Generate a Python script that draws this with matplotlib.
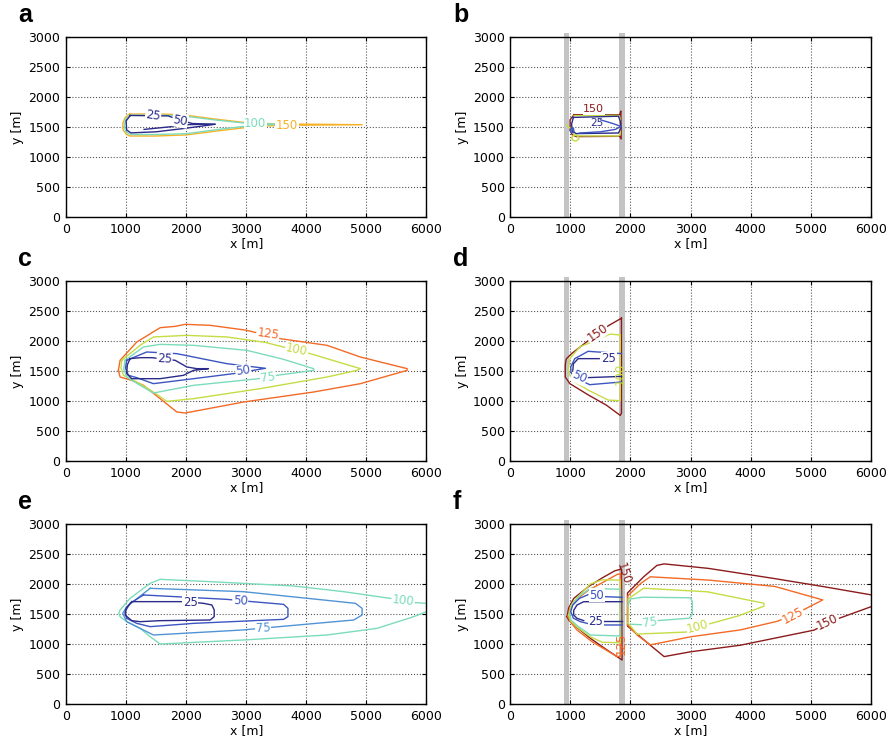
import matplotlib.pyplot as plt

# ---- contour vertices, (x [m], y [m]) ----
# panel a
a150 = [(1060, 1715), (1500, 1718), (1930, 1705), (2500, 1630), (3000, 1572), (3500, 1552),
        (4930, 1538), (3500, 1527), (3000, 1492), (2500, 1432), (2000, 1368), (1500, 1350),
        (1060, 1350), (1000, 1385), (950, 1450), (945, 1560), (985, 1660), (1060, 1715)]
a100 = [(1070, 1697), (1500, 1697), (1900, 1690), (2500, 1615), (2950, 1568), (3550, 1547),
        (3000, 1515), (2500, 1455), (2000, 1388), (1500, 1375), (1075, 1375), (995, 1420),
        (968, 1520), (995, 1640), (1070, 1697)]
a25 = [(1070, 1692), (1700, 1685), (1900, 1615), (2100, 1558), (2480, 1545), (2000, 1480),
       (1500, 1420), (1080, 1402), (1010, 1450), (1000, 1600), (1070, 1692)]
a50 = [(1300, 1460), (1700, 1500), (2050, 1540), (2480, 1547)]

# panel b
b150 = [(1060, 1705), (1820, 1705), (1840, 1765), (1845, 1300), (1820, 1345), (1100, 1340),
        (1030, 1370), (995, 1450), (995, 1620), (1060, 1705)]
b100 = [(1060, 1690), (1800, 1695), (1830, 1640), (1830, 1380), (1800, 1350), (1110, 1352),
        (1040, 1400), (1000, 1480), (930, 1530)]
b100_loop = [(1020, 1320), (1040, 1280), (1090, 1265), (1140, 1300), (1120, 1360), (1050, 1360),
             (1020, 1320)]
b25 = [(1050, 1660), (1800, 1680), (1830, 1600), (1840, 1480), (1800, 1400), (1100, 1390),
       (1030, 1430), (1020, 1550), (1050, 1660)]
b50 = [(1150, 1400), (1500, 1420), (1750, 1460), (1840, 1510), (1700, 1560), (1500, 1620)]
b50_loop = [(1000, 1440), (1020, 1400), (1060, 1420), (1050, 1480), (1010, 1480), (1000, 1440)]

# panel c
c125 = [(872, 1511), (900, 1678), (1178, 1983), (1567, 2222), (1817, 2244), (1983, 2278),
        (2400, 2261), (3000, 2180), (3567, 2039), (4344, 1928), (4900, 1733), (5678, 1539),
        (5678, 1511), (4900, 1289), (4122, 1150), (2955, 983), (1983, 800), (1844, 817),
        (1567, 1039), (1289, 1261), (1094, 1344), (900, 1400), (872, 1511)]
c100 = [(928, 1678), (1233, 1928), (1455, 2067), (2011, 2094), (2678, 2067), (3300, 1980),
        (4066, 1789), (4900, 1539), (4844, 1511), (4344, 1400), (3233, 1206), (2122, 1039),
        (1678, 994), (1455, 1150), (1178, 1317), (955, 1428), (915, 1550), (928, 1678)]
c75 = [(983, 1678), (1289, 1900), (1567, 1944), (2122, 1928), (3011, 1844), (3600, 1700),
       (4122, 1539), (4122, 1511), (3511, 1428), (3205, 1372), (2122, 1261), (1455, 1133),
       (1233, 1261), (1011, 1400), (960, 1540), (983, 1678)]
c50 = [(1011, 1678), (1344, 1817), (1844, 1789), (2678, 1622), (3320, 1545), (2789, 1456),
       (2122, 1372), (1455, 1289), (1178, 1389), (1039, 1428), (990, 1550), (1011, 1678)]
c25 = [(1067, 1706), (1233, 1722), (1428, 1722), (1817, 1678), (2011, 1567), (2178, 1539),
       (2372, 1539), (2122, 1511), (1955, 1428), (1567, 1372), (1094, 1372), (1011, 1456),
       (1020, 1600), (1067, 1706)]

# panel d
d150 = [(1850, 2380), (1640, 2260), (1270, 1985), (1020, 1790), (930, 1700), (915, 1600),
        (915, 1400), (990, 1290), (1300, 1100), (1600, 930), (1830, 760), (1850, 800), (1850, 2380)]
d100 = [(1830, 2100), (1660, 2115), (1400, 2000), (1160, 1905), (995, 1715), (965, 1520),
        (1020, 1350), (1300, 1180), (1630, 1015), (1830, 1005), (1830, 2100)]
d50_top = [(1850, 1790), (1295, 1828), (1072, 1705), (1005, 1567), (1010, 1480), (1060, 1400)]
d50_low = [(1200, 1330), (1322, 1272), (1850, 1317)]
d25 = [(1480, 1706), (1130, 1706), (1050, 1620), (1040, 1500), (1120, 1420), (1300, 1390),
       (1850, 1410)]

# panel e
e100 = [(6000, 1678), (5817, 1689), (5400, 1760), (4622, 1872), (3789, 1967), (2400, 2039),
        (1567, 2078), (1400, 2011), (1067, 1761), (900, 1567), (880, 1510), (900, 1456),
        (1011, 1372), (1233, 1261), (1400, 1122), (1567, 1000), (2955, 1067), (4344, 1150),
        (5178, 1261), (5789, 1456), (6000, 1539)]
e75 = [(1400, 1928), (2955, 1872), (4817, 1678), (4928, 1594), (4928, 1483), (4789, 1400),
       (3233, 1261), (2928, 1233), (1455, 1150), (1233, 1261), (1011, 1372), (944, 1511),
       (1011, 1622), (1400, 1928)]
e50 = [(1289, 1817), (2678, 1744), (3094, 1706), (3622, 1661), (3694, 1594), (3694, 1456),
       (3622, 1411), (2122, 1344), (1400, 1289), (1178, 1344), (1011, 1428), (983, 1539),
       (1067, 1678), (1289, 1817)]
e25 = [(1094, 1706), (1983, 1706), (2289, 1678), (2428, 1650), (2467, 1567), (2467, 1456),
       (2400, 1400), (1567, 1389), (1233, 1372), (1094, 1389), (983, 1483), (1000, 1594),
       (1094, 1706)]

# panel f, right of the second barrier
f150r = [(6000, 1820), (5220, 1955), (4400, 2090), (3300, 2260), (2560, 2335), (2440, 2310),
         (2220, 2120), (1950, 1850), (1950, 1300), (2330, 980), (2560, 790), (3000, 870),
         (3830, 980), (5050, 1230), (5450, 1420), (6000, 1620)]
f125r = [(1955, 1320), (1955, 1800), (2170, 2010), (2330, 2120), (3300, 2065), (4400, 1960),
         (5200, 1735), (4900, 1580), (4450, 1380), (3830, 1235), (3000, 1120), (2330, 985),
         (2110, 1150), (1955, 1320)]
f100r = [(1960, 1350), (1960, 1750), (2220, 1930), (3280, 1870), (4220, 1680), (4220, 1630),
         (3800, 1470), (3330, 1340), (2950, 1200), (2110, 1165), (1960, 1350)]
f75r = [(1960, 1640), (2000, 1750), (2200, 1780), (3000, 1770), (3030, 1700), (3030, 1500),
        (2980, 1430), (2450, 1390), (2200, 1320), (2000, 1330)]
# panel f, between the barriers
f150l = [(944, 1456), (972, 1600), (1055, 1760), (1305, 1960), (1527, 2100), (1740, 2220),
         (1850, 2250), (1860, 733), (1611, 900), (1333, 1094), (1028, 1344), (972, 1400), (944, 1456)]
f125l = [(960, 1460), (990, 1600), (1083, 1730), (1305, 1900), (1583, 2050), (1780, 2160),
         (1835, 2170), (1840, 800), (1778, 790), (1640, 872), (1360, 1039), (1110, 1233),
         (1000, 1372), (960, 1460)]
f100l = [(975, 1480), (1010, 1640), (1100, 1760), (1333, 2000), (1528, 2070), (1830, 2065),
         (1830, 1020), (1528, 1030), (1333, 1120), (1100, 1290), (1000, 1390), (975, 1480)]
f75l = [(990, 1500), (1030, 1650), (1150, 1800), (1333, 1928), (1833, 1911), (1833, 1133),
        (1333, 1150), (1120, 1300), (1010, 1400), (990, 1500)]
f50l = [(1290, 1820), (1150, 1760), (1040, 1650), (1005, 1540), (1050, 1430), (1167, 1372),
        (1389, 1317), (1861, 1317)]
f50l_top = [(1861, 1778), (1583, 1789)]
f25l = [(1861, 1705), (1222, 1705), (1110, 1650), (1055, 1560), (1055, 1483), (1110, 1428),
        (1222, 1390)]
f25l_low = [(1555, 1380), (1861, 1380)]

# barriers (x extent, m)
barriers = [(890, 975), (1805, 1905)]

# colours
NAVY = '#2b2b8a'
BLUE = '#3c55c0'
LBLUE = '#5094d6'
AQUA = '#7cdcba'
YGRN = '#c6dc44'
ORNG = '#f26a26'
YORN = '#f7b126'
DRED = '#8c1c1c'

panels = {
    'a': [(a150, YORN), (a100, AQUA), (a25, NAVY), (a50, NAVY)],
    'b': [(b150, DRED), (b100, YGRN), (b100_loop, YGRN), (b25, NAVY), (b50, BLUE), (b50_loop, BLUE)],
    'c': [(c125, ORNG), (c100, YGRN), (c75, AQUA), (c50, BLUE), (c25, NAVY)],
    'd': [(d150, DRED), (d100, YGRN), (d50_top, BLUE), (d50_low, BLUE), (d25, NAVY)],
    'e': [(e100, AQUA), (e75, LBLUE), (e50, BLUE), (e25, NAVY)],
    'f': [(f150r, DRED), (f125r, ORNG), (f100r, YGRN), (f75r, AQUA),
          (f150l, DRED), (f125l, ORNG), (f100l, YGRN), (f75l, AQUA),
          (f50l, BLUE), (f50l_top, BLUE), (f25l, NAVY), (f25l_low, NAVY)],
}

# inline labels: text, x, y, rotation, colour, white box, size
labels = {
    'a': [('25', 1450, 1690, -8, NAVY, True, 8.5), ('50', 1900, 1610, -10, NAVY, True, 8.5),
          ('100', 3150, 1565, 0, AQUA, True, 8.5), ('150', 3680, 1525, 0, YORN, True, 8.5)],
    'b': [('150', 1390, 1800, 0, DRED, True, 8), ('25', 1440, 1575, 0, NAVY, False, 7.5)],
    'c': [('125', 3360, 2110, -8, ORNG, True, 8.5), ('100', 3840, 1850, -12, YGRN, True, 8.5),
          ('75', 3360, 1400, 8, AQUA, True, 8.5), ('50', 2950, 1500, 8, BLUE, True, 8.5),
          ('25', 1640, 1700, -3, NAVY, True, 8.5)],
    'd': [('150', 1450, 2130, 35, DRED, True, 8.5), ('100', 1835, 1450, 90, YGRN, False, 8.5),
          ('50', 1150, 1400, -25, BLUE, True, 8.5), ('25', 1640, 1700, 0, NAVY, True, 8.5)],
    'e': [('25', 2070, 1690, 0, NAVY, True, 8.5), ('50', 2900, 1725, -3, BLUE, True, 8.5),
          ('75', 3280, 1260, 3, LBLUE, True, 8.5), ('100', 5610, 1720, -6, AQUA, True, 8.5)],
    'f': [('150', 5280, 1370, 25, DRED, True, 8.5), ('125', 4700, 1480, 28, ORNG, True, 8.5),
          ('100', 3120, 1290, 15, YGRN, True, 8.5), ('75', 2320, 1360, 8, AQUA, True, 8.5),
          ('50', 1440, 1810, 0, BLUE, True, 8.5), ('25', 1420, 1370, 0, NAVY, True, 8.5),
          ('150', 1880, 2180, -72, DRED, False, 8.5), ('125', 1850, 1000, 90, ORNG, False, 8.5)],
}

W, H = 895, 745
lefts = {'a': 66, 'b': 510.3, 'c': 66, 'd': 510.3, 'e': 66, 'f': 510.3}
bottoms = {'a': 217, 'b': 217, 'c': 461, 'd': 461, 'e': 704, 'f': 704}

fig = plt.figure(figsize=(W / 100, H / 100), dpi=100)

for key in 'abcdef':
    ax = fig.add_axes([lefts[key] / W, 1 - bottoms[key] / H, 360.5 / W, 180 / H])
    ax.set_xlim(0, 6000)
    ax.set_ylim(0, 3000)
    ax.set_xticks(range(0, 6001, 1000))
    ax.set_yticks(range(0, 3001, 500))
    ax.grid(True, linestyle=':', color='#555555', linewidth=0.8)
    ax.set_axisbelow(True)
    ax.tick_params(direction='in', top=True, right=True, labelsize=9, length=3, pad=4)
    for sp in ax.spines.values():
        sp.set_linewidth(1.0)
    ax.set_xlabel('x [m]', fontsize=9, labelpad=1)
    ax.set_ylabel('y [m]', fontsize=9, labelpad=3)

    # grey barriers in the right-hand panels
    if key in 'bdf':
        for x0, x1 in barriers:
            ax.fill_between([x0, x1], 0, 3060, color='#c4c4c4', lw=0, clip_on=False, zorder=1.5)

    for pts, col in panels[key]:
        xs, ys = zip(*pts)
        ax.plot(xs, ys, color=col, lw=1.0, zorder=2)

    for s, x, y, rot, col, box, size in labels[key]:
        kw = dict(boxstyle='square,pad=0.05', fc='white', ec='none') if box else None
        ax.text(x, y, s, color=col, fontsize=size, rotation=rot, ha='center', va='center',
                rotation_mode='anchor', bbox=kw, zorder=3)

    fig.text((18 if key in 'ace' else 453) / W, 1 - (bottoms[key] - 195) / H, key,
             fontsize=18, fontweight='bold', family='Liberation Sans')

fig.savefig('out.png', dpi=100)
